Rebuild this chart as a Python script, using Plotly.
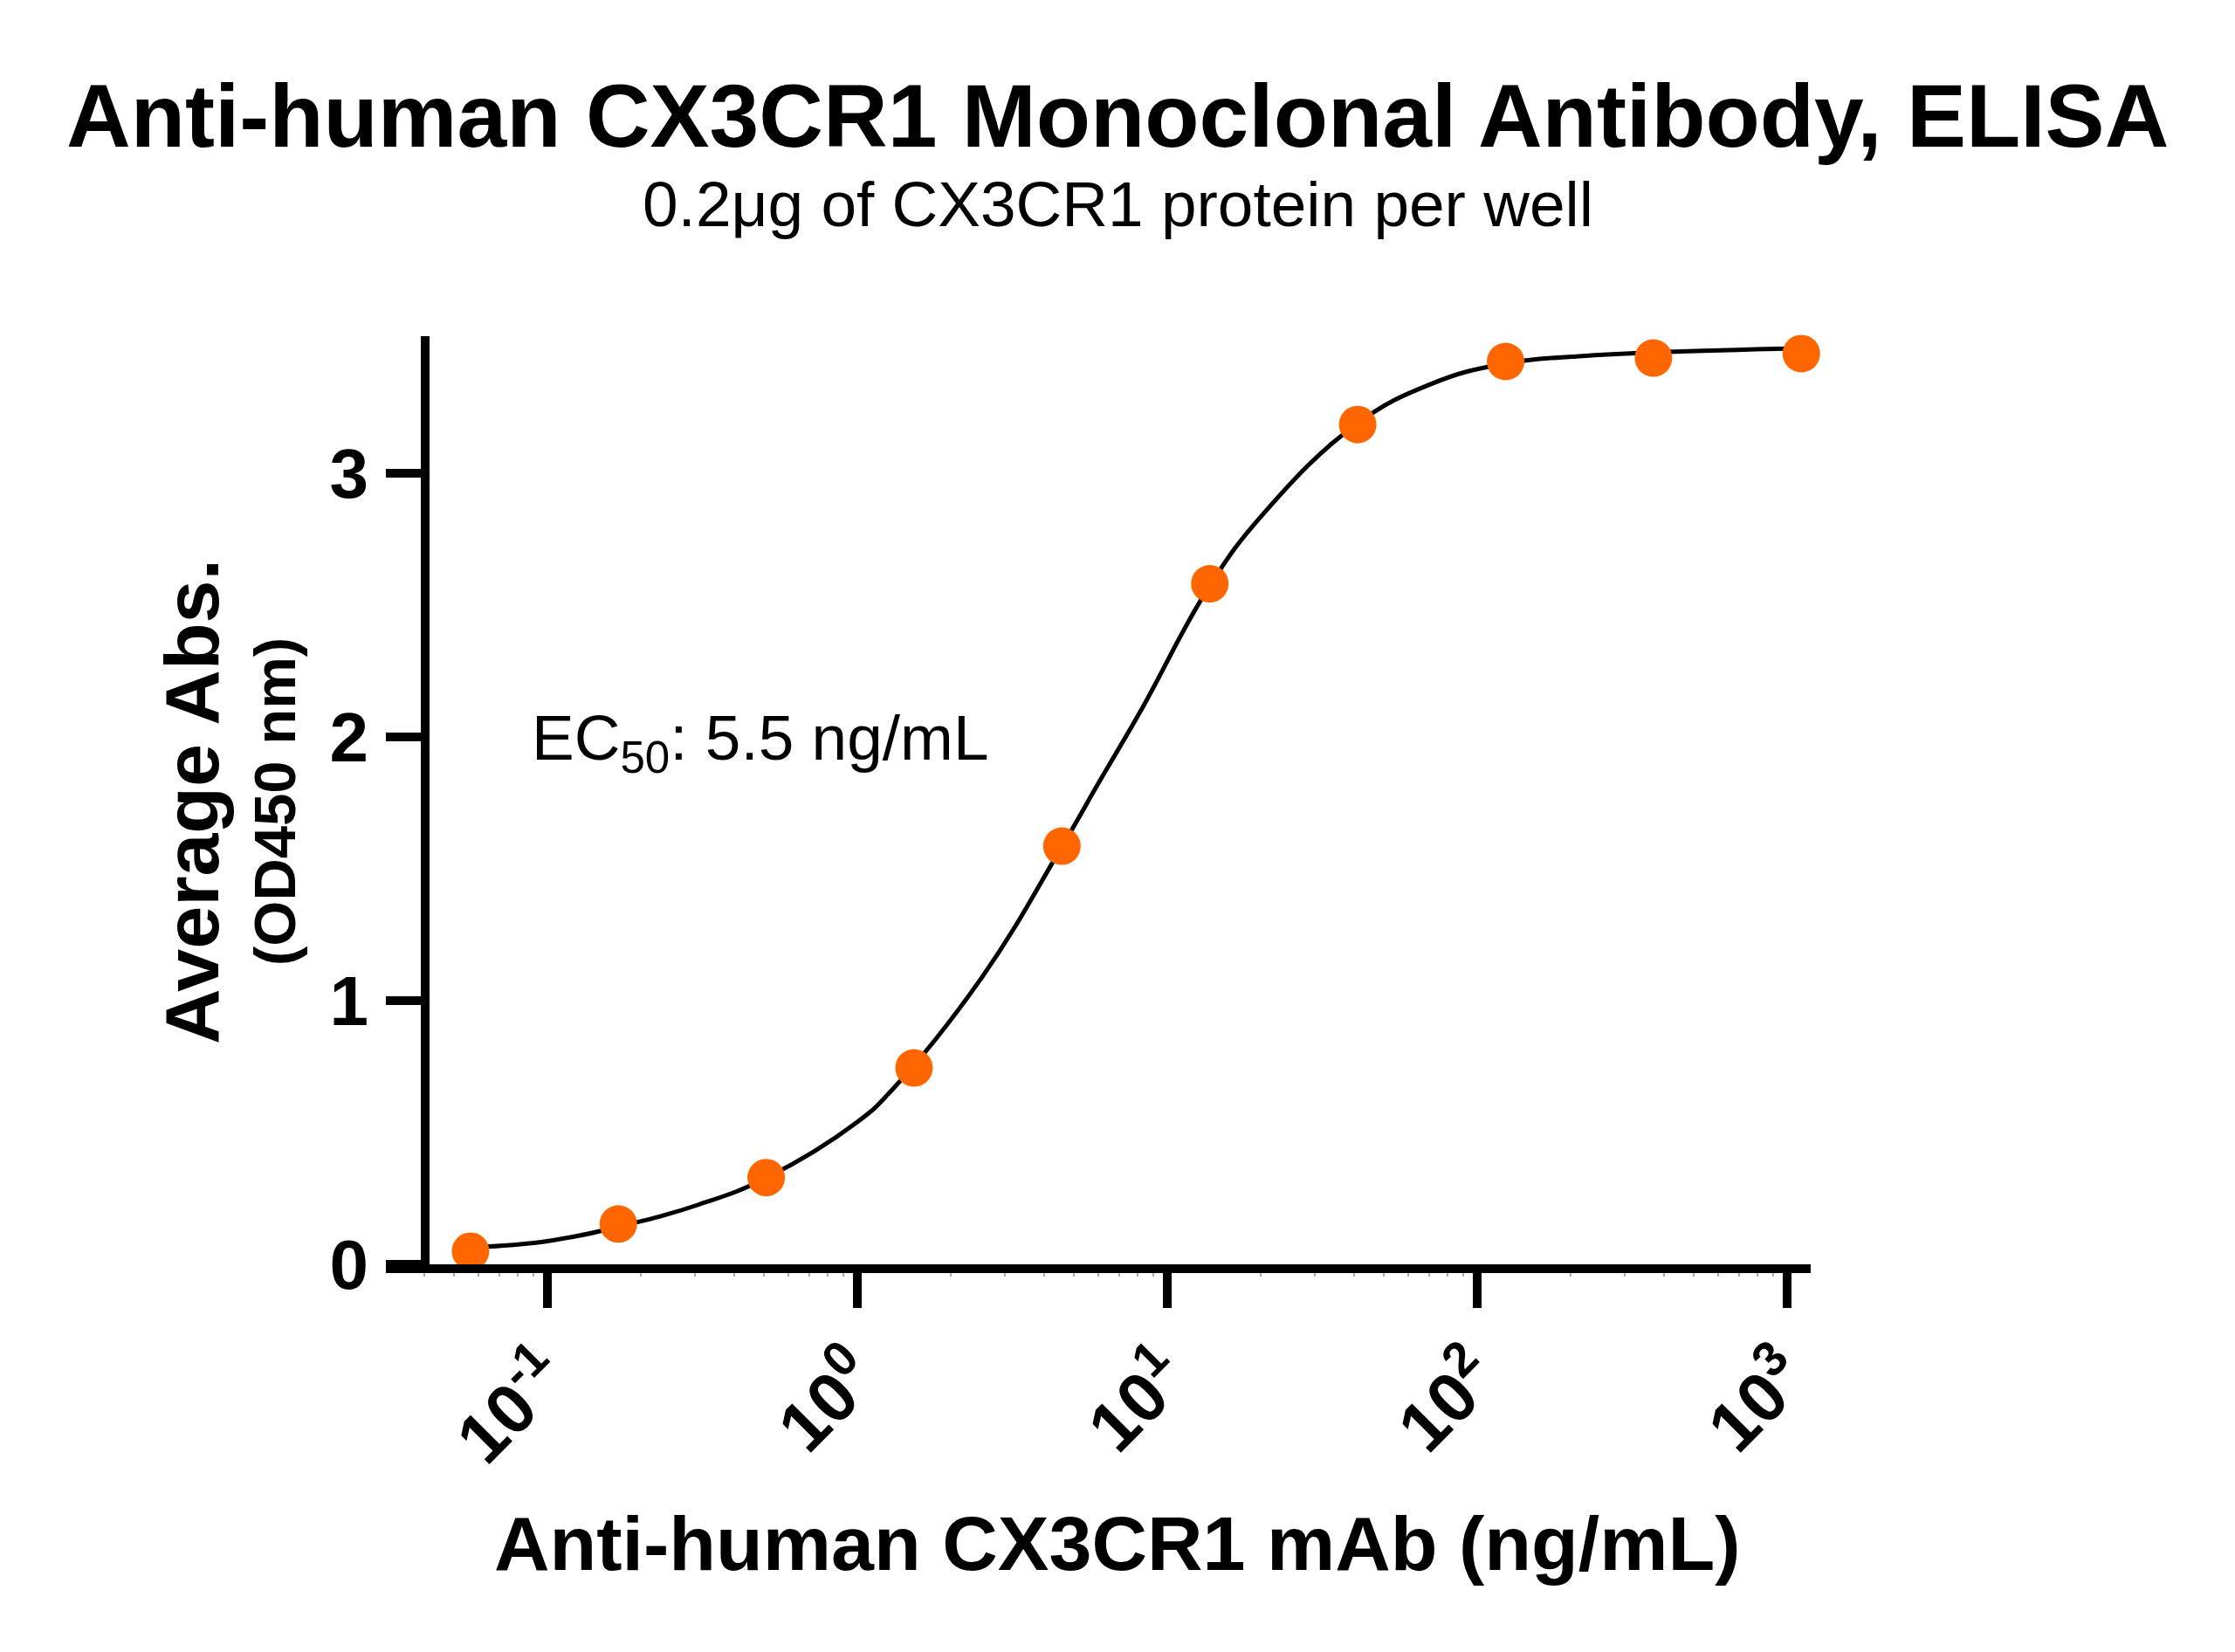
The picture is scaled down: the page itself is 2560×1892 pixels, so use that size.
import plotly.graph_objects as go

# concentrations (ng/mL), 3-fold dilution series
conc = [0.0565, 0.1694, 0.5081, 1.524, 4.572, 13.72, 41.15, 123.5, 370.4, 1111.1]
od450 = [0.05, 0.153, 0.329, 0.745, 1.586, 2.581, 3.185, 3.424, 3.437, 3.454]

# fitted curve
fit_x = [0.0569, 0.1, 0.169, 0.307, 0.509, 1.0, 1.279, 2.529, 4.55, 6.07,
         8.22, 13.65, 20.37, 40.64, 71.45, 121.3, 219.3, 364.8, 1089.0]
fit_y = [0.064, 0.088, 0.142, 0.226, 0.328, 0.54, 0.655, 1.09, 1.58, 1.835,
         2.10, 2.57, 2.845, 3.185, 3.34, 3.415, 3.445, 3.458, 3.474]

tick_vals = [0.1, 1, 10, 100, 1000]
tick_text = ["10<sup>-1</sup>", "10<sup>0</sup>", "10<sup>1</sup>",
             "10<sup>2</sup>", "10<sup>3</sup>"]

W, H = 2560, 1892
L, R, T, B = 442, 2074, 385, 1448   # plot box in pixels
SHIFT = 8                            # page body margin


def px(x):
    return (x - L) / (R - L)


def py(y):
    return (B - y) / (B - T)


FONT = "Liberation Sans, Arial, Helvetica, sans-serif"

fig = go.Figure()

fig.add_trace(go.Scatter(
    x=fit_x, y=fit_y, mode='lines',
    line=dict(color='black', width=5, shape='spline', smoothing=1.2),
    cliponaxis=False, showlegend=False, hoverinfo='skip'))

fig.add_trace(go.Scatter(
    x=conc, y=od450, mode='markers',
    marker=dict(color='#FF6600', size=43, line=dict(width=0)),
    cliponaxis=False, showlegend=False))

fig.update_layout(
    width=W, height=H,
    margin=dict(l=L - SHIFT, r=W - R + SHIFT, t=T - SHIFT, b=H - B + SHIFT,
                autoexpand=False),
    plot_bgcolor='white', paper_bgcolor='white',
    font=dict(family=FONT, color='black'),
    xaxis=dict(type='log', range=[-1.521, 3.076],
               tickvals=tick_vals, ticktext=tick_text,
               showline=True, linecolor='black', linewidth=10,
               showgrid=False, zeroline=False,
               ticks='outside', ticklen=40, tickwidth=10, tickcolor='black',
               tickangle=-45, ticklabelstandoff=0,
               tickfont=dict(size=80, family=FONT, weight='bold'),
               minor=dict(ticks='outside', ticklen=4, tickwidth=2,
                          tickcolor='#aaaaaa', dtick='D1', showgrid=False),
               anchor='y'),
    yaxis=dict(range=[0, 3.52], tickvals=[0, 1, 2, 3],
               showline=True, linecolor='black', linewidth=10,
               showgrid=False, zeroline=False,
               ticks='outside', ticklen=40, tickwidth=10, tickcolor='black',
               ticklabelstandoff=4,
               tickfont=dict(size=80, family=FONT, weight='bold'),
               anchor='free', position=px(487)),
)

fig.add_annotation(text="<b>Anti-human CX3CR1 Monoclonal Antibody, ELISA</b>",
                   xref='paper', yref='paper', x=px(1280), y=py(133),
                   xanchor='center', yanchor='middle', showarrow=False,
                   font=dict(size=102, family=FONT))
fig.add_annotation(text="0.2μg of CX3CR1 protein per well",
                   xref='paper', yref='paper', x=px(1280), y=py(234),
                   xanchor='center', yanchor='middle', showarrow=False,
                   font=dict(size=73, family=FONT))
fig.add_annotation(text="<b>Average Abs.</b>",
                   xref='paper', yref='paper', x=px(220), y=py(918),
                   xanchor='center', yanchor='middle', textangle=-90,
                   showarrow=False, font=dict(size=88, family=FONT))
fig.add_annotation(text="<b>(OD450 nm)</b>",
                   xref='paper', yref='paper', x=px(315), y=py(918),
                   xanchor='center', yanchor='middle', textangle=-90,
                   showarrow=False, font=dict(size=67, family=FONT))
fig.add_annotation(text="<b>Anti-human CX3CR1 mAb (ng/mL)</b>",
                   xref='paper', yref='paper', x=px(1280), y=py(1768),
                   xanchor='center', yanchor='middle', showarrow=False,
                   font=dict(size=88, family=FONT))
fig.add_annotation(text="EC<sub>50</sub>: 5.5 ng/mL",
                   xref='paper', yref='y', x=px(607), y=1.98,
                   xanchor='left', yanchor='middle', showarrow=False,
                   font=dict(size=73, family=FONT))

fig.write_html("out.html")
